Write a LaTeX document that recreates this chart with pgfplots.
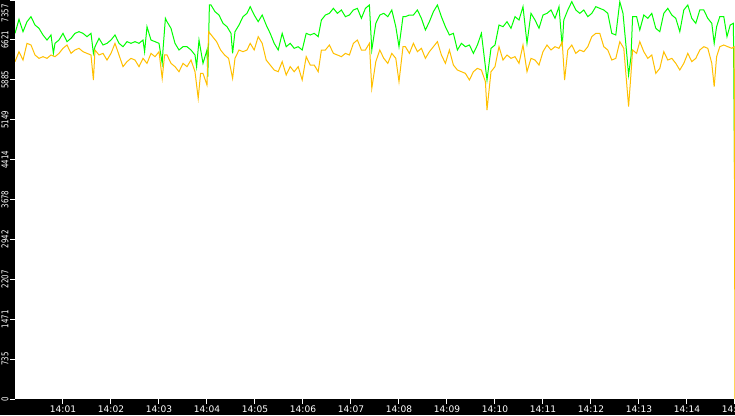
\documentclass[border=0pt]{standalone}
\usepackage{fontspec}
\setmainfont{DejaVu Sans}
\newfontfamily\narrowfont[FakeStretch=0.75]{DejaVu Sans}
\usepackage{pgfplots}
\pgfplotsset{compat=1.18}
\definecolor{cgreen}{RGB}{0,255,0}
\definecolor{corange}{RGB}{255,192,0}
\begin{document}
\begin{tikzpicture}
\fill[black] (0,0) rectangle (551.25pt,311.25pt);
\begin{axis}[
  at={(11.25pt,12pt)}, anchor=south west,
  width=540pt, height=299.25pt, scale only axis,
  xmin=0, xmax=900, ymin=0, ymax=7357,
  axis background/.style={fill=white},
  axis line style={draw=none},
  tick pos=left, tick align=outside,
  major tick length=3.75pt,
  tick style={white, line width=0.75pt},
  xtick={60,120,180,240,300,360,420,480,540,600,660,720,780,840,900},
  xticklabels={14:01,14:02,14:03,14:04,14:05,14:06,14:07,14:08,14:09,14:10,14:11,14:12,14:13,14:14,14:15},
  ytick={0,735.7,1471.4,2207.1,2942.8,3678.5,4414.2,5149.9,5885.6,6621.3,7357},
  yticklabels={0,735,1471,2207,2942,3678,4414,5149,5885,6621,\makebox[33pt][l]{7357}},
  ticklabel style={text=white},
  yticklabel style={font=\narrowfont\fontsize{7}{8}\selectfont, rotate=90, anchor=south, inner sep=1pt},
  xticklabel style={font=\fontsize{6.8}{8}\selectfont, inner sep=0.8pt, yshift=-0.6pt},
  /pgf/number format/assume math mode=true,
]
\addplot[cgreen, line width=0.75pt] coordinates {
(0,6742)(5,7001)(10,6773)(15,6957)(20,7050)(25,6896)(30,6835)(35,6712)(40,6619)(45,6712)(48,6373)(50,6558)(55,6619)(60,6742)(65,6589)(70,6650)(75,6742)(80,6773)(85,6742)(90,6681)(95,6742)(98,6373)(100,6496)(105,6650)(110,6527)(115,6558)(120,6619)(125,6712)(130,6558)(135,6496)(140,6589)(145,6558)(150,6589)(155,6558)(160,6619)(162,6404)(165,6865)(170,6619)(175,6589)(180,6558)(184,6189)(185,6435)(188,7019)(190,6957)(195,6835)(200,6558)(205,6435)(210,6496)(215,6496)(220,6435)(225,6343)(227,6128)(230,6619)(235,6189)(240,6435)(241,5943)(243,7265)(245,7265)(250,7142)(255,7080)(260,6927)(265,6865)(270,6742)(272,6373)(275,6773)(280,6896)(285,7050)(290,7111)
(294,7234)(299,7080)(304,6957)(309,7080)(314,6896)(319,6742)(324,6558)(329,6435)(334,6742)(339,6496)(344,6558)(349,6466)(354,6496)(359,6435)(364,6742)(369,6712)(374,6742)(379,6681)(383,6988)(388,7080)(393,7111)(398,7203)(403,7111)(408,7173)(413,7050)(418,7080)(423,7173)(428,7203)(433,7019)(438,7203)(443,7265)(446,6435)(451,6927)(456,7080)(461,7111)(466,7050)(471,7173)(476,6865)(480,6496)(485,7050)
(488,7050)(493,7080)(498,7080)(503,7173)(508,7019)(513,6804)(518,6957)(523,7142)(528,7265)(533,7050)(538,6865)(543,6712)(548,6742)(553,6435)(558,6558)(563,6496)(568,6527)(573,6373)(578,6527)(583,6742)(588,6128)(590,5882)(595,6466)(600,6527)(605,6896)(610,6865)(615,6957)(620,6835)(625,7050)(630,6988)(635,7234)(640,6558)(645,7111)(650,6988)(655,6835)(660,7080)(665,7111)(670,7173)(675,7019)(680,7234)
(684,6496)(686,6988)(691,7173)(696,7326)(701,7173)(706,7111)(711,7173)(716,7050)(721,7111)(726,7234)(731,7203)(736,7173)(741,7111)(746,6742)(751,6712)(756,7326)(760,7111)(765,6312)(767,5974)(770,6312)(772,7050)(777,7050)(781,6804)(786,7080)(791,7019)(796,7111)(801,6835)(806,6773)(811,7111)(816,7203)(821,7080)(826,7019)(831,6773)(836,7173)(841,7265)(846,7019)(851,6927)(856,7173)(861,7173)(866,7019)(871,6927)(874,6558)(877,6865)(881,7050)(886,7050)(890,6681)(894,6896)(898,6927)(900,3208)
};
\addplot[corange, line width=0.75pt] coordinates {
(0,6220)(5,6404)(10,6250)(15,6558)(20,6527)(25,6343)(30,6281)(35,6312)(40,6281)(45,6343)(50,6312)(55,6373)(60,6466)(65,6527)(70,6373)(75,6435)(80,6466)(85,6404)(90,6373)(95,6343)(98,5882)(100,6435)(105,6343)(110,6373)(115,6250)(120,6373)(125,6558)(130,6343)(135,6128)(140,6220)(145,6281)(150,6250)(155,6128)(160,6281)(165,6189)(170,6373)(175,6312)(180,6404)(184,5913)(187,6343)(190,6343)(195,6189)(200,6128)(205,6035)(210,6189)(215,6128)(220,6250)(225,6035)(229,5544)(232,6004)(235,6004)(240,5790)(242,6773)(247,6681)(252,6589)(257,6435)(262,6343)(267,6281)(272,5913)(275,6281)(280,6435)(285,6404)(290,6435)
(294,6558)(299,6435)(304,6681)(309,6558)(314,6250)(319,6158)(324,6066)(329,6035)(334,6220)(339,5974)(344,6128)(349,6035)(354,6128)(359,5882)(364,6312)(369,6158)(374,6158)(379,6035)(383,6435)(388,6435)(393,6527)(398,6373)(403,6343)(408,6312)(413,6373)(418,6343)(423,6558)(428,6619)(433,6435)(438,6435)(443,6558)(446,5728)(451,6220)(456,6435)(461,6281)(466,6189)(471,6373)(476,6281)(480,5851)(485,6496)
(488,6496)(493,6373)(498,6558)(503,6404)(508,6466)(513,6281)(518,6404)(523,6496)(528,6589)(533,6343)(538,6189)(543,6435)(548,6158)(553,6066)(558,6035)(563,6004)(568,5882)(573,6035)(578,6097)(583,6066)(588,5851)(590,5329)(595,6035)(600,6128)(605,6496)(610,6250)(615,6343)(620,6281)(625,6312)(630,6189)(635,6527)(640,6035)(645,6281)(650,6250)(655,6158)(660,6404)(665,6527)(670,6435)(675,6496)(680,6466)
(684,6589)(687,5882)(691,6435)(696,6527)(701,6373)(706,6435)(711,6404)(716,6496)(721,6681)(726,6742)(731,6742)(736,6496)(741,6435)(746,6250)(751,6281)(756,6589)(761,6466)(767,5390)(770,6004)(772,6435)(777,6373)(781,6589)(786,6404)(791,6281)(796,6343)(801,6004)(806,6097)(811,6404)(816,6250)(821,6281)(826,6189)(831,6066)(836,6189)(841,6373)(846,6220)(851,6281)(856,6435)(861,6496)(866,6466)(871,6189)(874,5759)(877,6312)(881,6496)(886,6527)(891,6496)(896,6466)(899,6496)(900,0)
};
\end{axis}
\pgfresetboundingbox
\useasboundingbox (0,0) rectangle (551.25pt,311.25pt);
\end{tikzpicture}
\end{document}
